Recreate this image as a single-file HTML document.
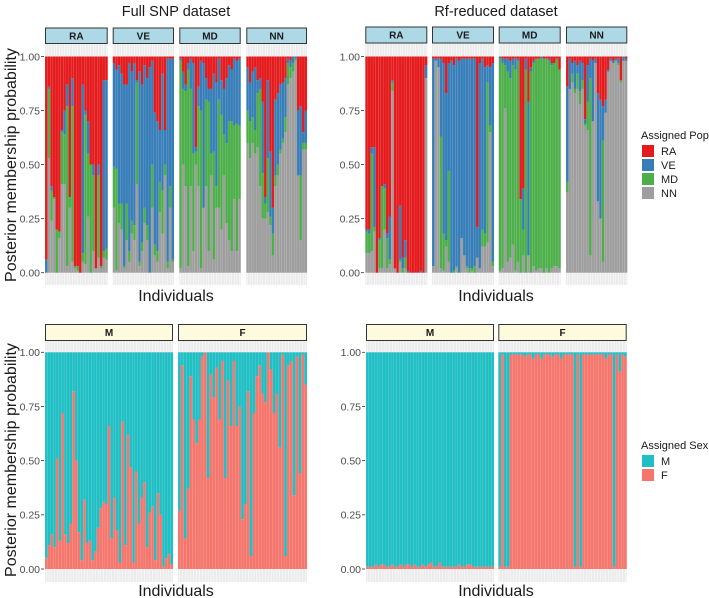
<!DOCTYPE html>
<html><head><meta charset="utf-8"><style>
body{margin:0;background:#fff}
svg{display:block;font-family:"Liberation Sans",sans-serif}
</style></head><body>
<svg id="c" width="709" height="598"></svg>
<script>
const popLabels=["RA","VE","MD","NN"];
const yTicks=[0,0.25,0.5,0.75,1];
const yTickLabels=["0.00","0.25","0.50","0.75","1.00"];
// cumulative tops [NN, NN+MD, NN+MD+VE]; RA fills the rest
const fullRA=[[0,0,.06],[.53,.85,.86],[.24,.38,.40],[.34,.35,.35],[0,.20,.20],[.16,.19,.19],[.41,.65,.66],[.41,.64,.75],[.03,.77,.87],[.30,.35,.35],[.05,.77,.90],[.02,.03,.03],[.01,.03,.03],[0,0,0],[.05,.09,.87],[.04,.73,.75],[.26,.55,.70],[0,.5,.5],[.10,.45,.50],[.02,.02,.02],[.07,.45,.50],[.02,.03,.03],[.07,.10,.89],[.06,.11,.89]];
const fullVE=[[.30,.49,.97],[.01,.48,.94],[.23,.32,.96],[.20,.32,.92],[.02,.03,.87],[.15,.32,.87],[.05,.10,.97],[.18,.24,.93],[.15,.22,.97],[.41,.88,.89],[.03,.05,.93],[.10,.14,.87],[.23,.30,.96],[.15,.22,.90],[0,0,.95],[.30,.50,.98],[.08,.13,.74],[.05,.10,.70],[.28,.42,.66],[.18,.38,.92],[.45,.50,.66],[.02,.05,.99],[.30,.40,.99],[.05,.06,.99]];
const fullMD=[[.02,.98,.99],[.50,.85,.93],[.40,.84,.87],[.03,.94,.97],[.40,.85,.99],[.10,.55,.97],[.50,.56,.58],[.40,.77,.86],[.02,.75,.98],[.30,.30,.97],[.40,.80,.90],[.10,.79,.85],[.45,.55,.85],[.06,.56,.92],[.30,.40,.88],[.30,.80,.99],[.20,.73,.89],[.45,.64,.85],[.23,.60,.90],[.15,.70,.96],[.10,.70,.94],[.34,.68,.99],[.10,.69,.98],[.34,.68,.99]];
const fullNN=[[.60,.75,.95],[.53,.70,.88],[.60,.72,.93],[.55,.66,.95],[.58,.83,.89],[.40,.85,.90],[.25,.46,.79],[.25,.32,.35],[.28,.53,.89],[.22,.26,.56],[.08,.18,.30],[.40,.45,.80],[.45,.50,.83],[.55,.57,.87],[.60,.62,.88],[.65,.72,.90],[.87,.97,.99],[.90,.95,.98],[.93,.97,1],[.98,.99,1],[.45,.45,.75],[.15,.45,.77],[.57,.60,.65],[.57,.60,.75]];
const rfRA=[[.09,.19,.20],[.09,.18,.20],[.10,.55,.58],[.19,.21,.58],[0,0,0],[.02,.15,.16],[.02,.4,.4],[.20,.39,.41],[.02,.16,.18],[.04,.06,.26],[.84,.88,.89],[.02,.02,.02],[0,0,0],[.05,.06,.31],[0,.02,.07],[.02,.07,.15],[0,0,.01],[0,0,0],[0,0,0],[0,0,0],[0,0,0],[0,0,.01],[0,0,0],[.90,.90,.96]];
const rfVE=[[.03,.03,.99],[.98,.98,.99],[.95,.95,.99],[.02,.63,.99],[.01,.18,.97],[.12,.15,.83],[.05,.47,.97],[0,0,.98],[0,.01,.96],[.02,.03,.99],[0,0,.98],[.16,.16,.99],[.08,.08,.99],[.02,.03,.99],[0,.02,.99],[.01,.02,.99],[0,.03,.99],[.07,.07,.21],[.02,.02,.97],[.12,.20,.99],[.12,.18,.95],[.14,.88,.96],[.65,.68,.95],[.03,.05,.97]];
const rfMD=[[.01,.99,1],[.02,.97,.99],[.76,.96,.99],[.05,.93,.99],[.07,.90,.98],[.13,.96,.99],[.01,.94,.99],[.05,.98,.99],[0,.34,.34],[.08,.20,.39],[0,.94,.99],[.08,.08,.79],[0,.93,.95],[.03,.97,.98],[.01,.99,.99],[.02,.99,.99],[.02,.99,1],[0,.99,.99],[.02,.99,.99],[0,.98,.99],[.02,.96,.97],[.03,.97,.97],[.03,.99,.99],[.02,.94,.94]];
const rfNN=[[.37,.42,.86],[.85,.85,.99],[.88,.92,.97],[.83,.85,.98],[.85,.92,.96],[.78,.84,.98],[.85,.89,.97],[.68,.69,.71],[.66,.79,.96],[.08,.90,.99],[.70,.70,.98],[.97,.97,.99],[.33,.33,.83],[.25,.25,.80],[.05,.61,.77],[.74,.74,.80],[.93,.93,.94],[.98,.98,.99],[.97,.97,.98],[.98,.98,.99],[.96,.97,.99],[.88,.89,.89],[.98,.98,1],[.98,.98,.99]];
// sex: probability F (bottom, salmon); M fills the rest
const fullSexM=[.05,.11,.16,.10,.51,.13,.72,.16,.12,.21,.82,.50,.17,.04,.32,.12,.13,.04,.08,.19,.28,.31,.30,.66,.14,.33,.18,.03,.68,.11,.62,.47,.03,.45,.21,.33,.40,.10,.26,.29,.04,.35,.25,.01,.05,.07,.02];
const fullSexF=[.27,.94,.14,.37,.89,.69,.58,.69,.98,1,.42,.90,.79,.93,.69,.96,.42,.87,.66,.96,.66,.75,.23,.30,.82,.06,.72,.89,.94,.81,.77,1,.92,.72,.81,.56,.99,.06,.94,.96,.34,.98,.44,.99,.85];
const rfSexM=[.01,.01,.01,.02,.01,.02,.02,.01,.01,.02,.01,.01,.02,.01,.02,.02,.01,.02,.01,.01,.02,.01,.02,.03,.01,.01,.03,.01,.01,.01,.01,.01,.01,.02,.01,.01,.02,.02,.01,.01,.01,.01,.01,.01,.01,.01];
const rfSexF=[.01,.99,.01,.01,.99,.99,.99,.99,.99,.98,.99,.99,.97,.99,.99,.97,.99,.99,.99,.98,.99,.99,.97,.99,.99,.99,.99,.01,.99,.01,.99,.99,.99,.99,.99,.99,.99,.99,.97,.99,.99,.01,.99,.91,.99,.98];

const popColors=["#9e9e9e","#4daf4a","#377eb8","#e41a1c"];
const svg=document.getElementById('c');
const NS="http://www.w3.org/2000/svg";
function mk(tag,attrs,parent){const e=document.createElementNS(NS,tag);for(const k in attrs)e.setAttribute(k,attrs[k]);(parent||svg).appendChild(e);return e;}
function txt(s,attrs,parent){const e=mk('text',attrs,parent);e.textContent=s;return e;}

function yScale(v,y0,y1){return y0-(y0-y1)*v;}

function panelFrame(x0,x1,stripTop,stripBot,greyBot,label,fill,n){
  const bg=mk('rect',{x:x0,y:stripBot,width:x1-x0,height:greyBot-stripBot,fill:'#ebebeb'});
  
  
  const w=(x1-x0)/n;
  for(let i=0;i<n;i++){
    mk('line',{x1:x0+w*(i+0.5),x2:x0+w*(i+0.5),y1:stripBot,y2:greyBot,stroke:'#fff','stroke-width':0.5});
  }
  const st=mk('rect',{x:x0+0.5,y:stripTop+0.5,width:x1-x0-1,height:stripBot-stripTop-1,fill:fill,stroke:'#333','stroke-width':1});
  
  
  const t=txt(label,{x:(x0+x1)/2,y:(stripTop+stripBot)/2+3.5,'text-anchor':'middle','font-size':10,'font-weight':'bold',fill:'#1a1a1a'});
  
  
}

function popPanel(x0,x1,y0,y1,data,label,stripTop,stripBot,greyBot){
  panelFrame(x0,x1,stripTop,stripBot,greyBot,label,'#add8e6',data.length);
  const w=(x1-x0)/data.length;
  data.forEach((d,i)=>{
    const bounds=[0,d[0],d[1],d[2],1];
    for(let k=0;k<4;k++){
      const a=bounds[k],b=bounds[k+1];
      if(b-a<=0)continue;
      const r=mk('rect',{x:x0+i*w,y:yScale(b,y0,y1),width:w+0.05,height:yScale(a,y0,y1)-yScale(b,y0,y1),fill:popColors[k]});
      
      
    }
    mk('line',{x1:x0+i*w,x2:x0+i*w,y1:y1,y2:y0,stroke:'#fff','stroke-opacity':0.25,'stroke-width':0.4});
  });
}
function sexPanel(x0,x1,y0,y1,data,label,stripTop,stripBot,greyBot){
  panelFrame(x0,x1,stripTop,stripBot,greyBot,label,'#fdfade',data.length);
  const w=(x1-x0)/data.length;
  data.forEach((f,i)=>{
    const r1=mk('rect',{x:x0+i*w,y:y1,width:w+0.05,height:yScale(f,y0,y1)-y1,fill:'#1fbfc4'});
    
    
    const r2=mk('rect',{x:x0+i*w,y:yScale(f,y0,y1),width:w+0.05,height:y0-yScale(f,y0,y1),fill:'#f4766d'});
    
    
    mk('line',{x1:x0+i*w,x2:x0+i*w,y1:y1,y2:y0,stroke:'#fff','stroke-opacity':0.25,'stroke-width':0.4});
  });
}
function yAxis(xr,y0,y1){
  yTicks.forEach((v,i)=>{
    const y=yScale(v,y0,y1);
    mk('line',{x1:xr-3,x2:xr,y1:y,y2:y,stroke:'#333','stroke-width':0.8});
    const t=txt(yTickLabels[i],{x:xr-4,y:y+3.8,'text-anchor':'end','font-size':10.5,fill:'#4d4d4d'});
    
    
  });
}

// top row
const tY0=272.7,tY1=56.5;
const leftX=[[45,107.7],[112.7,174],[179.3,240.7],[246.3,307]];
const rightX=[[365.3,427.3],[432,494],[498.7,560.7],[566,627.3]];
[fullRA,fullVE,fullMD,fullNN].forEach((d,i)=>popPanel(leftX[i][0],leftX[i][1],tY0,tY1,d,popLabels[i],27.5,44,285));
[rfRA,rfVE,rfMD,rfNN].forEach((d,i)=>popPanel(rightX[i][0],rightX[i][1],tY0,tY1,d,popLabels[i],26.5,43.5,285));
yAxis(44,tY0,tY1);yAxis(364,tY0,tY1);
// bottom row
const bY0=569,bY1=352.3;
sexPanel(45,173,bY0,bY1,fullSexM,'M',324,341,582);
sexPanel(178,307,bY0,bY1,fullSexF,'F',324,341,582);
sexPanel(366,494,bY0,bY1,rfSexM,'M',324,341,582);
sexPanel(498.3,626.7,bY0,bY1,rfSexF,'F',324,341,582);
yAxis(44,bY0,bY1);yAxis(365,bY0,bY1);

function label(s,attrs,name){const t=txt(s,attrs);}
label('Full SNP dataset',{x:176,y:16,'text-anchor':'middle','font-size':14.5,fill:'#1a1a1a'},'title-full-snp');
label('Rf-reduced dataset',{x:496,y:16,'text-anchor':'middle','font-size':14.5,fill:'#1a1a1a'},'title-rf-reduced');
label('Individuals',{x:176,y:301,'text-anchor':'middle','font-size':16,fill:'#1a1a1a'},'x-axis-title');
label('Individuals',{x:496,y:301,'text-anchor':'middle','font-size':16,fill:'#1a1a1a'},'x-axis-title');
label('Individuals',{x:176,y:596,'text-anchor':'middle','font-size':16,fill:'#1a1a1a'},'x-axis-title');
label('Individuals',{x:496,y:596,'text-anchor':'middle','font-size':16,fill:'#1a1a1a'},'x-axis-title');
label('Posterior membership probability',{x:0,y:0,transform:'translate(16,165) rotate(-90)','text-anchor':'middle','font-size':16,fill:'#1a1a1a'},'y-axis-title');
label('Posterior membership probability',{x:0,y:0,transform:'translate(16,460) rotate(-90)','text-anchor':'middle','font-size':16,fill:'#1a1a1a'},'y-axis-title');

// legends
label('Assigned Pop',{x:641,y:139,'font-size':11,fill:'#1a1a1a'},'legend-title-pop');
const legPop=["RA","VE","MD","NN"],legPopCol=["#e41a1c","#377eb8","#4daf4a","#9e9e9e"];
legPop.forEach((s,i)=>{
  const r=mk('rect',{x:642,y:145+i*14,width:12,height:12,fill:legPopCol[i]});
  
  
  label(s,{x:661,y:155+i*14,'font-size':11,fill:'#1a1a1a'},'legend-entry');
});
label('Assigned Sex',{x:641,y:449,'font-size':11,fill:'#1a1a1a'},'legend-title-sex');
[["M","#1fbfc4"],["F","#f4766d"]].forEach((p,i)=>{
  const r=mk('rect',{x:642,y:455+i*14,width:12,height:12,fill:p[1]});
  
  
  label(p[0],{x:661,y:465+i*14,'font-size':11,fill:'#1a1a1a'},'legend-entry');
});
</script>
</body></html>
